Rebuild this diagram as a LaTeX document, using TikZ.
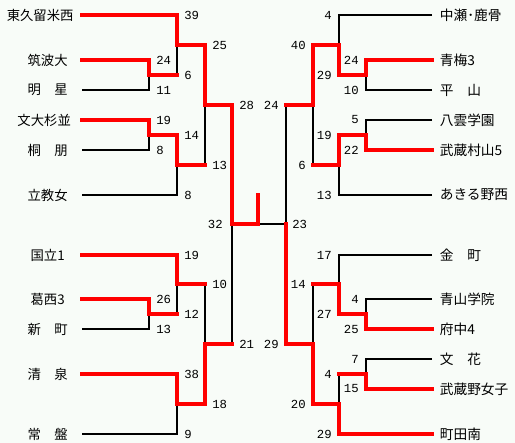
\documentclass[tikz,border=0pt]{standalone}
\usepackage{fontspec}
\usepackage{tikz}
\newfontfamily\jpfont{Noto Sans CJK JP}
\newfontfamily\numfont{Liberation Mono}
\definecolor{mybg}{RGB}{248,252,248}
\definecolor{myred}{RGB}{255,0,0}
\tikzset{
  lteam/.style={anchor=east, minimum width=1.36cm, inner sep=0pt,
    align=center, font=\jpfont\fontsize{7.6}{9}\selectfont},
  rteam/.style={anchor=west, inner xsep=0.15cm, inner ysep=0pt,
    font=\jpfont\fontsize{7.8}{9}\selectfont},
  lscore/.style={anchor=west, inner sep=0pt, font=\numfont\fontsize{7}{8}\selectfont},
  rscore/.style={anchor=east, inner sep=0pt, font=\numfont\fontsize{7}{8}\selectfont},
  lose/.style={black, line width=0.6pt},
  win/.style={myred, line width=2pt, line cap=rect, line join=miter}
}
\begin{document}
\begin{tikzpicture}[x=0.02cm, y=-0.02cm]
  % Background
  \fill[mybg] (0,0) rectangle (515,443);
  \useasboundingbox (0,0) rectangle (515,443);

  % Left teams
  \node[lteam, minimum width=1.66cm] (L1) at (82,15) {東久留米西};
  \node[lteam] (L2) at (82,60) {筑波大};
  \node[lteam] (L3) at (82,90) {明　星};
  \node[lteam, minimum width=1.5cm] (L4) at (82,120) {文大杉並};
  \node[lteam] (L5) at (82,150) {桐　朋};
  \node[lteam] (L6) at (82,195) {立教女};
  \node[lteam] (L7) at (82,255) {国立1};
  \node[lteam] (L8) at (82,299) {葛西3};
  \node[lteam] (L9) at (82,329) {新　町};
  \node[lteam] (L10) at (82,374) {清　泉};
  \node[lteam] (L11) at (82,434) {常　盤};

  % Right teams
  \node[rteam] (R1) at (432,15) {中瀬･鹿骨};
  \node[rteam] (R2) at (432,60) {青梅3};
  \node[rteam] (R3) at (432,90) {平　山};
  \node[rteam] (R4) at (432,120) {八雲学園};
  \node[rteam] (R5) at (432,150) {武蔵村山5};
  \node[rteam] (R6) at (432,195) {あきる野西};
  \node[rteam] (R7) at (432,255) {金　町};
  \node[rteam] (R8) at (432,299) {青山学院};
  \node[rteam] (R9) at (432,329) {府中4};
  \node[rteam] (R10) at (432,359) {文　花};
  \node[rteam] (R11) at (432,389) {武蔵野女子};
  \node[rteam] (R12) at (432,434) {町田南};

  % Match points
  \coordinate (mA) at (149,75);
  \coordinate (mB) at (177,45);
  \coordinate (mC) at (149,135);
  \coordinate (mD) at (177,165);
  \coordinate (mE) at (205,105);
  \coordinate (mF) at (149,314);
  \coordinate (mG) at (177,284);
  \coordinate (mH) at (177,404);
  \coordinate (mI) at (205,344);
  \coordinate (mJ) at (232,224);
  \coordinate (final) at (258,224);
  \coordinate (champ) at (258,195);
  \coordinate (nA) at (366,75);
  \coordinate (nB) at (339,45);
  \coordinate (nC) at (366,135);
  \coordinate (nD) at (339,165);
  \coordinate (nE) at (313,105);
  \coordinate (nF) at (366,314);
  \coordinate (nG) at (339,284);
  \coordinate (nH) at (366,374);
  \coordinate (nI) at (339,404);
  \coordinate (nJ) at (313,344);
  \coordinate (nK) at (286,224);

  % Losing lines
  \draw[lose] (L3.east) -| (mA);
  \draw[lose] (mA -| mB) -- (mB);
  \draw[lose] (L5.east) -| (mC);
  \draw[lose] (L6.east) -| (mD);
  \draw[lose] (mD -| mE) -- (mE);
  \draw[lose] (L9.east) -| (mF);
  \draw[lose] (mF -| mG) -- (mG);
  \draw[lose] (L11.east) -| (mH);
  \draw[lose] (mG -| mI) -- (mI);
  \draw[lose] (mI -| mJ) -- (mJ);
  \draw[lose] (final) -- (nK);
  \draw[lose] (R3.west) -| (nA);
  \draw[lose] (R1.west) -| (nB);
  \draw[lose] (R4.west) -| (nC);
  \draw[lose] (R6.west) -| (nD);
  \draw[lose] (nD -| nE) -- (nE);
  \draw[lose] (R8.west) -| (nF);
  \draw[lose] (R7.west) -| (nG);
  \draw[lose] (R10.west) -| (nH);
  \draw[lose] (nH -| nI) -- (nI);
  \draw[lose] (nG -| nJ) -- (nJ);
  \draw[lose] (nE -| nK) -- (nK);

  % Winning lines
  \draw[win] (L2.east) -| (mA) -- (mA -| mB);
  \draw[win] (L1.east) -| (mB) -- (mB -| mE);
  \draw[win] (L4.east) -| (mC) -- (mC -| mD);
  \draw[win] (mC -| mD) -- (mD) -- (mD -| mE);
  \draw[win] (mB -| mE) -- (mE) -- (mE -| mJ);
  \draw[win] (L8.east) -| (mF) -- (mF -| mG);
  \draw[win] (L7.east) -| (mG) -- (mG -| mI);
  \draw[win] (L10.east) -| (mH) -- (mH -| mI);
  \draw[win] (mH -| mI) -- (mI) -- (mI -| mJ);
  \draw[win] (mE -| mJ) -- (mJ) -- (final) -- (champ);
  \draw[win] (R2.west) -| (nA) -- (nA -| nB);
  \draw[win] (nA -| nB) -- (nB) -- (nB -| nE);
  \draw[win] (R5.west) -| (nC) -- (nC -| nD);
  \draw[win] (nC -| nD) -- (nD) -- (nD -| nE);
  \draw[win] (nB -| nE) -- (nE) -- (nE -| nK);
  \draw[win] (R9.west) -| (nF) -- (nF -| nG);
  \draw[win] (nF -| nG) -- (nG) -- (nG -| nJ);
  \draw[win] (R11.west) -| (nH) -- (nH -| nI);
  \draw[win] (R12.west) -| (nI) -- (nI -| nJ);
  \draw[win] (nI -| nJ) -- (nJ) -- (nJ -| nK);
  \draw[win] (nJ -| nK) -- (nK);

  % Scores
  \foreach \x/\y/\s [count=\i] in {149/60/24, 149/90/11, 149/120/19, 149/150/8,
      149/299/26, 149/329/13, 177/15/39, 177/75/6, 177/135/14, 177/195/8,
      177/255/19, 177/314/12, 177/374/38, 177/434/9, 205/45/25, 205/165/13,
      205/284/10, 205/404/18, 232/105/28, 232/344/21}
    \node[lscore] (ls\i) at (\x+7,\y) {\s};
  \foreach \x/\y/\s [count=\i] in {366/60/24, 366/90/10, 366/120/5, 366/150/22,
      366/299/4, 366/329/25, 366/359/7, 366/389/15, 339/15/4, 339/75/29,
      339/135/19, 339/195/13, 339/255/17, 339/314/27, 339/374/4, 339/434/29,
      313/45/40, 313/165/6, 313/284/14, 313/404/20, 286/105/24, 286/344/29}
    \node[rscore] (rs\i) at (\x-7,\y) {\s};
  \node[rscore] (fl) at (223,224) {32};
  \node[lscore] (fr) at (292,224) {23};
\end{tikzpicture}
\end{document}
